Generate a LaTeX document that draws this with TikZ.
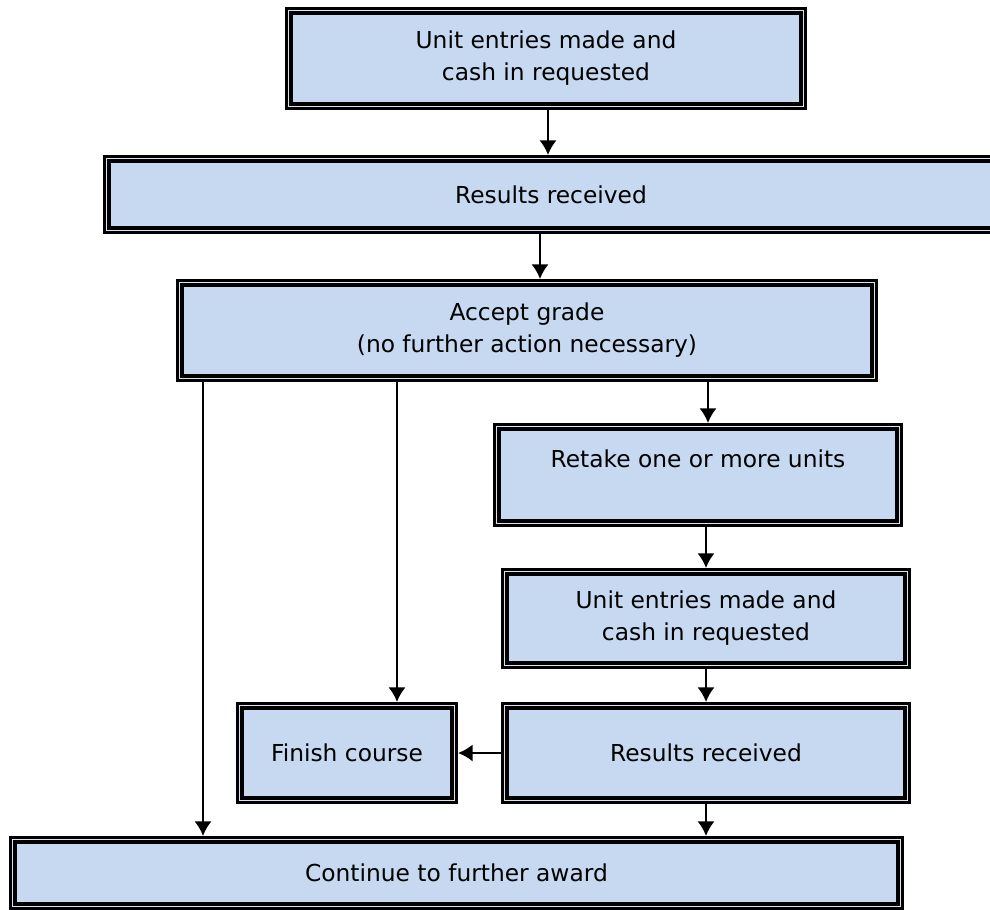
\documentclass[tikz,border=0pt]{standalone}
\usepackage{fontspec}
\setmainfont{DejaVu Sans}
\usepackage[]{tikz}
\usetikzlibrary{positioning,arrows.meta}
\definecolor{boxfill}{RGB}{198,217,241}
\definecolor{boxgap}{RGB}{218,228,241}
\tikzset{main box/.style={rectangle,fill=boxfill,draw=black,line width=2.4pt,
    preaction={draw=black,line width=9pt},preaction={draw=boxgap,line width=5.2pt},
    outer sep=4.5pt,inner sep=2pt,align=center,font=\fontsize{17.5}{24}\selectfont}}

\begin{document}
\begin{tikzpicture}[>={Latex[length=11pt,width=13pt]},auto, on grid, line width=1.8pt]
      \useasboundingbox (0,0) rectangle (742.5pt,-682.5pt);
      \node[main box,minimum width=382.5pt,minimum height=68.25pt] (unit) at (409.5pt,-43.875pt) {Unit entries made and\\cash in requested};
      \node[main box,minimum width=663pt,minimum height=50.25pt] (res) [below right = 102pt and 3.75pt of unit] {Results received};
      \node[main box,minimum width=517.5pt,minimum height=68.25pt] (accept) [below left = 102pt and 18pt of res] {Accept grade\\(no further action necessary)};
      \node[main box,minimum width=298.5pt,minimum height=69pt] (retake) [below right = 108.375pt and 128.25pt of accept] {Retake one or more units\\~};
      \node[main box,minimum width=298.5pt,minimum height=66.75pt] (unit2) [below right = 107.625pt and 6pt of retake] {Unit entries made and\\cash in requested};
      \node[main box,minimum width=298.5pt,minimum height=67.5pt] (res2) [below = 100.875pt of unit2] {Results received};
      \node[main box,minimum width=157.5pt,minimum height=67.5pt] (finish) [left = 269.25pt of res2] {Finish course};
      \node[main box,minimum width=662.25pt,minimum height=46.5pt] (award) [below left = 90pt and 187.125pt of res2] {Continue to further award};
      \draw[->] ([xshift=1.5pt]unit.south) -- ([xshift=1.5pt]unit.south |- res.north);
      \draw[->] ([xshift=-8.25pt]res.south) -- ([xshift=-8.25pt]res.south |- accept.north);
      \draw[->] ([xshift=7.5pt]retake.north |- accept.south) -- ([xshift=7.5pt]retake.north);
      \draw[->] (unit2.north |- retake.south) -- (unit2.north);
      \draw[->] (unit2.south) -- (unit2.south |- res2.north);
      \draw[->] (res2) edge[] node {} (finish);
      \draw[->] ([xshift=37.5pt]finish.north |- accept.south) -- ([xshift=37.5pt]finish.north);
      \draw[->] ([xshift=20.25pt]accept.south west) -- ([xshift=20.25pt]accept.south west |- award.north);
      \draw[->] (res2.south) -- (res2.south |- award.north);
    \end{tikzpicture}
\end{document}
